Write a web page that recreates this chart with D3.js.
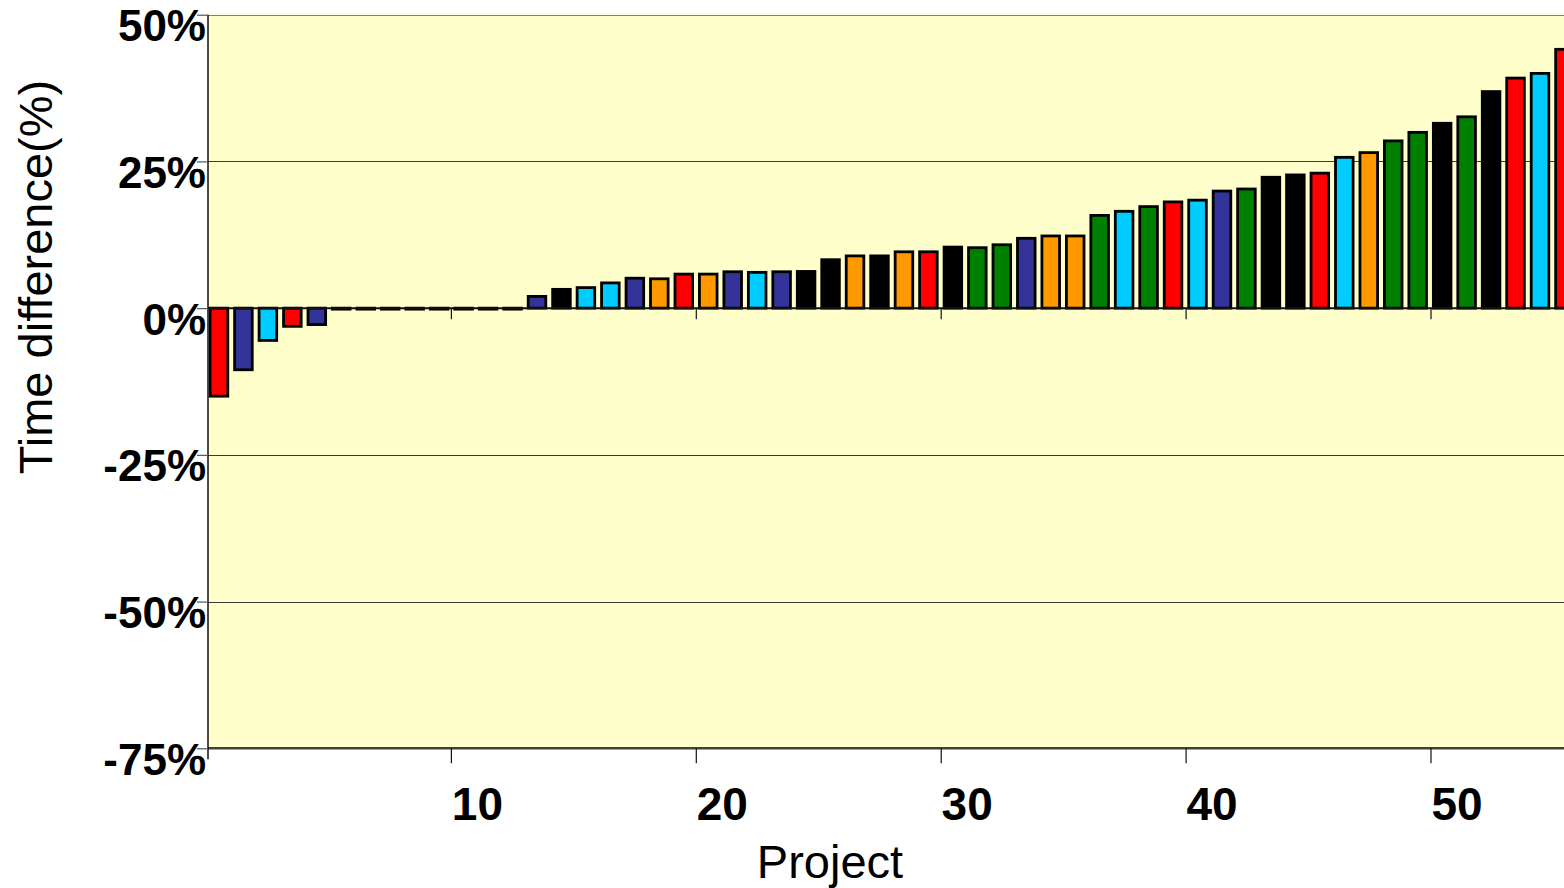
<!DOCTYPE html>
<html>
<head>
<meta charset="utf-8">
<script src="https://cdn.jsdelivr.net/npm/d3@7"></script>
<style>
body { margin: 0; background: #fff; overflow: hidden; }
text { font-family: "Liberation Sans", Arial, sans-serif; }
</style>
</head>
<body>
<script>
// data
const projects = d3.range(1, 57);
const timeDiff = [
    -15, -10.5, -5.5, -3.1, -2.8,
    0, 0, 0, 0, 0, 0, 0, 0,
    2.0, 3.2, 3.5, 4.3, 5.1, 5.0, 5.8, 5.8, 6.2, 6.1, 6.2, 6.25,
    8.25, 8.9, 8.9, 9.6, 9.6, 10.4, 10.3, 10.8, 11.9, 12.3, 12.3,
    15.8, 16.5, 17.3, 18.1, 18.4, 19.95, 20.3, 22.3, 22.7, 23.0,
    25.7, 26.5, 28.5, 29.95, 31.5, 32.6, 36.9, 39.2, 40.0, 44.1
];
// group of each project (sets the bar colour)
const groups = [
    "A", "B", "C", "A", "B",
    "B", "B", "B", "B", "B", "B", "B", "B",
    "B", "F", "C", "C", "B", "D", "A", "D", "B", "C", "B", "F",
    "F", "D", "F", "D", "A", "F", "E", "E", "B", "D", "D",
    "E", "C", "E", "A", "C", "B", "E", "F", "F", "A",
    "C", "D", "E", "E", "F", "E", "F", "A", "C", "A"
];
const groupNames = ["A", "B", "C", "D", "E", "F"];
const groupColors = ["#ff0000", "#333399", "#00ccff", "#ff9900", "#008000", "#000000"];
const yTicks = [-75, -50, -25, 0, 25, 50];
const xTicks = [10, 20, 30, 40, 50];

const W = 1564, H = 888;
const step = 24.49;
const x0 = 206, plotLeft = 208;
const plotRight = x0 + projects.length * step + 20; // runs past the window edge

const svg = d3.select("body").append("svg")
    .attr("width", W)
    .attr("height", H);

const x = d3.scaleBand()
    .domain(projects)
    .range([x0, x0 + projects.length * step])
    .paddingInner(0.28)
    .paddingOuter(0.17);

// project edges, for the tick marks
const xEdge = d3.scaleLinear()
    .domain([0, projects.length])
    .range([x0, x0 + projects.length * step]);

const y = d3.scaleLinear()
    .domain([-75, 50])
    .range([748.3, 14.7]);

const color = d3.scaleOrdinal().domain(groupNames).range(groupColors);

// plot background
svg.append("rect")
    .attr("x", plotLeft)
    .attr("y", y(50))
    .attr("width", plotRight - plotLeft)
    .attr("height", y(-75) - y(50))
    .attr("fill", "#ffffcc");

// grid lines
svg.append("g")
    .selectAll("line")
    .data(yTicks.filter(d => d !== 0 && d !== -75))
    .join("line")
    .attr("x1", plotLeft)
    .attr("x2", plotRight)
    .attr("y1", d => Math.round(y(d)) + 0.5)
    .attr("y2", d => Math.round(y(d)) + 0.5)
    .attr("stroke", d => d === 50 ? "#808080" : "#3a3a3a")
    .attr("stroke-width", 1.2);

// bars
const data = projects.map((p, i) => ({ project: p, value: timeDiff[i], group: groups[i] }));

svg.append("g")
    .selectAll("rect")
    .data(data)
    .join("rect")
    .attr("x", d => x(d.project))
    .attr("width", x.bandwidth())
    .attr("y", d => Math.min(y(d.value), y(0)))
    .attr("height", d => Math.max(1, Math.abs(y(d.value) - y(0))))
    .attr("fill", d => color(d.group))
    .attr("stroke", "#000")
    .attr("stroke-width", 2.8);

// category axis through zero
const zeroAxis = svg.append("g")
    .attr("transform", `translate(0, ${y(0)})`)
    .call(d3.axisBottom(xEdge).tickValues(xTicks).tickSize(11).tickSizeOuter(0).tickFormat(""));
zeroAxis.select(".domain").attr("d", `M${plotLeft},0H${plotRight}`).attr("stroke", "#111").attr("stroke-width", 2);
zeroAxis.selectAll(".tick line").attr("stroke", "#111").attr("stroke-width", 1.2);

// bottom axis with labels
const bottomAxis = svg.append("g")
    .attr("transform", `translate(0, ${y(-75)})`)
    .call(d3.axisBottom(xEdge).tickValues(xTicks).tickSize(15).tickSizeOuter(0).tickPadding(0));
bottomAxis.select(".domain").attr("d", `M${plotLeft},0H${plotRight}`).attr("stroke", "#404040").attr("stroke-width", 2.5);
bottomAxis.selectAll(".tick line").attr("stroke", "#111").attr("stroke-width", 1.2);
bottomAxis.selectAll(".tick text")
    .attr("x", 26)
    .attr("y", 72)
    .attr("dy", 0)
    .attr("fill", "#000")
    .style("font-size", "46px")
    .style("font-weight", "bold");

// value axis
const leftAxis = svg.append("g")
    .attr("transform", `translate(${plotLeft}, 0)`)
    .call(d3.axisLeft(y).tickValues(yTicks).tickSize(11).tickSizeOuter(0).tickPadding(0)
        .tickFormat(d => d + "%"));
leftAxis.select(".domain").attr("d", `M0,${y(50)}V${y(-75) + 11}`).attr("stroke", "#111").attr("stroke-width", 1.5);
leftAxis.selectAll(".tick line").attr("stroke", "#555").attr("stroke-width", 1.2);
leftAxis.selectAll(".tick text")
    .attr("x", -2)
    .attr("dy", 26)
    .attr("fill", "#000")
    .style("font-size", "44px")
    .style("font-weight", "bold");

// axis titles
svg.append("text")
    .attr("x", 830)
    .attr("y", 878)
    .attr("text-anchor", "middle")
    .style("font-size", "47px")
    .text("Project");

svg.append("text")
    .attr("transform", "translate(52, 277) rotate(-90)")
    .attr("text-anchor", "middle")
    .style("font-size", "47px")
    .text("Time difference(%)");
</script>
</body>
</html>
